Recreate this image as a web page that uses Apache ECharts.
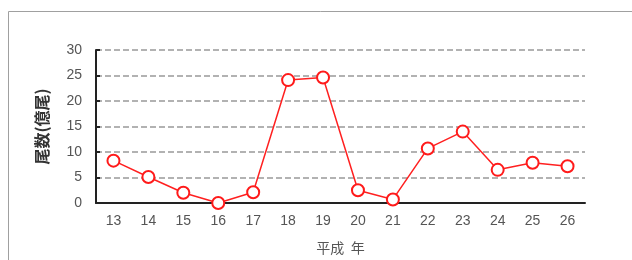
<!DOCTYPE html>
<html>
<head>
<meta charset="utf-8">
<script src="https://cdn.jsdelivr.net/npm/echarts@6/dist/echarts.min.js"></script>
<style>
  html, body { margin: 0; padding: 0; background: #fff; }
  #main { width: 632px; height: 260px; }
</style>
</head>
<body>
<div id="main"></div>
<script>
// 平成 年
var years = ['13', '14', '15', '16', '17', '18', '19', '20', '21', '22', '23', '24', '25', '26']
// 尾数（億尾）
var counts = [8.3, 5.1, 2.0, 0.0, 2.1, 24.1, 24.6, 2.5, 0.7, 10.7, 14.0, 6.5, 7.9, 7.2]

var chart = echarts.init(document.getElementById('main'))
var font = '"Liberation Sans", "Noto Sans CJK JP", sans-serif'

chart.setOption({
  animation: false,
  graphic: [
    {
      type: 'rect',
      shape: { x: 8.5, y: 11.5, width: 640, height: 260 },
      style: { fill: 'none', stroke: '#a0a0a0', lineWidth: 1 }
    }
  ],
  grid: { left: 96, right: 47, top: 50, bottom: 57 },
  xAxis: {
    type: 'category',
    data: years,
    boundaryGap: true,
    name: '平成  年',
    nameLocation: 'middle',
    nameGap: 38,
    nameTextStyle: { color: '#555', fontSize: 14, fontFamily: '"Noto Sans CJK JP", sans-serif' },
    axisLine: { lineStyle: { color: '#222', width: 2 } },
    axisTick: { inside: true, length: 4, lineStyle: { color: '#222', width: 2 } },
    axisLabel: { color: '#555', fontSize: 14, margin: 11, fontFamily: font }
  },
  yAxis: {
    type: 'value',
    min: 0,
    max: 30,
    interval: 5,
    name: '尾数(億尾)',
    nameLocation: 'middle',
    nameRotate: 90,
    nameGap: 46,
    nameTextStyle: { color: '#333', fontSize: 16, fontWeight: 'bold', fontFamily: '"Noto Sans CJK JP", sans-serif' },
    axisLine: { show: true, lineStyle: { color: '#222', width: 2 } },
    axisTick: { show: true, inside: true, length: 4, lineStyle: { color: '#222', width: 2 } },
    axisLabel: { color: '#555', fontSize: 14, margin: 14, fontFamily: font },
    splitLine: { lineStyle: { color: '#999', width: 1.5, type: [6, 3] } }
  },
  series: [
    {
      type: 'line',
      data: counts,
      symbol: 'circle',
      symbolSize: 12,
      showAllSymbol: true,
      lineStyle: { color: '#ff2020', width: 1.5 },
      itemStyle: { color: '#fff', borderColor: '#ff1a1a', borderWidth: 2 }
    }
  ]
})
</script>
</body>
</html>
